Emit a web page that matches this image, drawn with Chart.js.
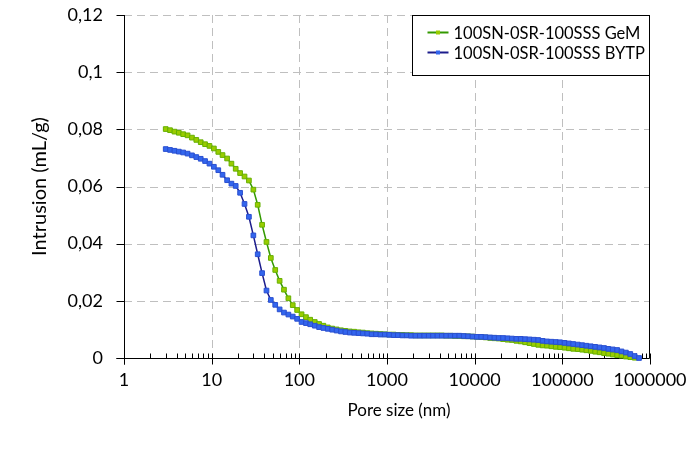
<!DOCTYPE html>
<html>
<head>
<meta charset="utf-8">
<title>Intrusion vs pore size</title>
<script src="https://cdn.jsdelivr.net/npm/chart.js@4.4.1/dist/chart.umd.min.js"></script>
<style>
  html, body { margin: 0; padding: 0; background: #fff; }
  #chart { display: block; }
</style>
</head>
<body>
<canvas id="chart" width="691" height="452"></canvas>
<script>
// pore sizes (nm) shared by both curves
const poreSize = [
  2.99, 3.35, 3.76, 4.22, 4.73, 5.31, 5.96, 6.68, 7.50, 8.41, 9.44,
  10.6, 11.9, 13.3, 15.0, 16.8, 18.8, 21.1, 23.7, 26.6, 29.9,
  33.5, 37.6, 42.2, 47.3, 53.1, 59.6, 66.8, 75.0, 84.1, 94.4,
  106, 119, 133, 150, 168, 188, 211, 237, 266, 299,
  335, 376, 422, 473, 531, 596, 668, 750, 841, 944,
  1060, 1190, 1330, 1500, 1680, 1880, 2110, 2370, 2660, 2990,
  3350, 3760, 4220, 4730, 5310, 5960, 6680, 7500, 8410, 9440,
  10600, 11900, 13300, 15000, 16800, 18800, 21100, 23700, 26600, 29900,
  33500, 37600, 42200, 47300, 53100, 59600, 66800, 75000, 84100, 94400,
  106000, 119000, 133000, 150000, 168000, 188000, 211000, 237000, 266000, 299000,
  335000, 376000, 422000, 473000, 531000, 596000, 668000, 750000
];

// cumulative intrusion (mL/g), GeM sample
const intrusionGeM = [
  0.0801, 0.0797, 0.0792, 0.0788, 0.0783, 0.0779, 0.0771, 0.0763, 0.0755, 0.0748, 0.0742,
  0.0733, 0.0721, 0.0710, 0.0698, 0.0680, 0.0662, 0.0647, 0.0635, 0.0621, 0.0589,
  0.0536, 0.0466, 0.0406, 0.0350, 0.0308, 0.0270, 0.0239, 0.0209, 0.0185, 0.0168,
  0.0153, 0.0143, 0.0134, 0.0126, 0.0119, 0.0113, 0.0107, 0.0103, 0.0100, 0.0097,
  0.0095, 0.0093, 0.0092, 0.0090, 0.0089, 0.0087, 0.0086, 0.0085, 0.0084, 0.0083,
  0.0082, 0.0082, 0.0081, 0.0081, 0.0080, 0.0080, 0.0079, 0.0079, 0.0079, 0.0079,
  0.0079, 0.0079, 0.0079, 0.0078, 0.0078, 0.0077, 0.0077, 0.0076, 0.0076, 0.0075,
  0.0074, 0.0073, 0.0072, 0.0070, 0.0069, 0.0068, 0.0066, 0.0064, 0.0063, 0.0060,
  0.0058, 0.0055, 0.0052, 0.0049, 0.0046, 0.0044, 0.0043, 0.0041, 0.0039, 0.0038,
  0.0036, 0.0034, 0.0032, 0.0031, 0.0029, 0.0027, 0.0025, 0.0022, 0.0020, 0.0017,
  0.0015, 0.0012, 0.0010, 0.0008, 0.0005, 0.0003, 0.0001, null
];

// cumulative intrusion (mL/g), BYTP sample
const intrusionBYTP = [
  0.0731, 0.0728, 0.0725, 0.0722, 0.0719, 0.0715, 0.0709, 0.0703, 0.0697, 0.0689, 0.0680,
  0.0669, 0.0657, 0.0641, 0.0622, 0.0610, 0.0602, 0.0578, 0.0539, 0.0494, 0.0429,
  0.0363, 0.0297, 0.0236, 0.0203, 0.0186, 0.0170, 0.0159, 0.0152, 0.0145, 0.0137,
  0.0126, 0.0122, 0.0118, 0.0113, 0.0108, 0.0105, 0.0102, 0.0099, 0.0096, 0.0093,
  0.0091, 0.0089, 0.0088, 0.0087, 0.0086, 0.0085, 0.0083, 0.0083, 0.0082, 0.0082,
  0.0081, 0.0080, 0.0080, 0.0079, 0.0079, 0.0078, 0.0078, 0.0078, 0.0078, 0.0078,
  0.0078, 0.0078, 0.0078, 0.0078, 0.0078, 0.0078, 0.0078, 0.0077, 0.0076, 0.0075,
  0.0074, 0.0074, 0.0073, 0.0072, 0.0071, 0.0070, 0.0070, 0.0069, 0.0068, 0.0067,
  0.0067, 0.0066, 0.0065, 0.0064, 0.0063, 0.0060, 0.0058, 0.0057, 0.0056, 0.0055,
  0.0053, 0.0051, 0.0049, 0.0047, 0.0045, 0.0043, 0.0041, 0.0039, 0.0037, 0.0035,
  0.0032, 0.0030, 0.0028, 0.0023, 0.0019, 0.0014, 0.0007, 0.0000
];

const seriesNames = ["100SN-0SR-100SSS GeM", "100SN-0SR-100SSS BYTP"];
const xMajorTicks = [1, 10, 100, 1000, 10000, 100000, 1000000];
const yTicks = [0, 0.02, 0.04, 0.06, 0.08, 0.1, 0.12];
const xTitle = "Pore size (nm)";

const FONT = "Lato";

function toPoints(xs, ys) {
  const pts = [];
  xs.forEach((x, i) => {
    if (ys[i] !== null && ys[i] !== undefined) pts.push({ x: x, y: ys[i] });
  });
  return pts;
}

function commaNumber(v) {
  return String(Number(v.toFixed(4))).replace(".", ",");
}

// dashed grid, axes, tick marks, x title and the legend box
const framePlugin = {
  id: "frame",
  beforeDatasetsDraw(chart) {
    const { ctx, chartArea: a, scales } = chart;
    const xs = scales.x, ys = scales.y;
    ctx.save();
    ctx.lineWidth = 1;
    ctx.strokeStyle = "#bfbfbf";
    ctx.setLineDash([8, 5]);
    xMajorTicks.slice(1, -1).forEach((v) => {
      const px = Math.round(xs.getPixelForValue(v)) + 0.5;
      ctx.beginPath();
      ctx.moveTo(px, a.top);
      ctx.lineTo(px, a.bottom);
      ctx.stroke();
    });
    yTicks.slice(1).forEach((v) => {
      const py = Math.round(ys.getPixelForValue(v)) + 0.5;
      ctx.beginPath();
      ctx.moveTo(a.left, py);
      ctx.lineTo(a.right, py);
      ctx.stroke();
    });
    ctx.setLineDash([]);

    // axes
    ctx.strokeStyle = "#000";
    const left = Math.round(a.left) + 0.5;
    const bottom = Math.round(a.bottom) + 0.5;
    const right = Math.round(a.right) - 0.5;
    ctx.beginPath();
    ctx.moveTo(left, a.top);
    ctx.lineTo(left, bottom + 6);
    ctx.moveTo(left - 8, bottom);
    ctx.lineTo(right, bottom);
    ctx.moveTo(right, a.top);
    ctx.lineTo(right, bottom);
    ctx.stroke();

    // y ticks, outside
    ctx.beginPath();
    yTicks.forEach((v) => {
      const py = Math.round(ys.getPixelForValue(v)) + 0.5;
      ctx.moveTo(left - 8, py);
      ctx.lineTo(left, py);
    });
    // x major ticks cross the axis, minor ticks point inward
    xMajorTicks.forEach((v) => {
      const px = Math.round(xs.getPixelForValue(v)) + 0.5;
      ctx.moveTo(px, bottom - 5);
      ctx.lineTo(px, bottom + 6);
    });
    xMajorTicks.slice(0, -1).forEach((d) => {
      for (let m = 2; m <= 9; m++) {
        const px = Math.round(xs.getPixelForValue(d * m)) + 0.5;
        ctx.moveTo(px, bottom - 5);
        ctx.lineTo(px, bottom);
      }
    });
    ctx.stroke();
    ctx.restore();
  },
  afterDraw(chart) {
    const { ctx, chartArea: a } = chart;

    // x axis title
    ctx.save();
    ctx.font = "17px " + FONT;
    ctx.fillStyle = "#000";
    ctx.textAlign = "center";
    ctx.textBaseline = "middle";
    ctx.fillText(xTitle, (a.left + a.right) / 2 + 12, a.bottom + 53);
    ctx.restore();

    const boxW = 238, boxH = 60;
    const bx = Math.round(a.right - boxW) + 0.5;
    const by = Math.round(a.top) + 0.5;
    ctx.save();
    ctx.fillStyle = "#fff";
    ctx.fillRect(bx, by, boxW, boxH);
    ctx.strokeStyle = "#000";
    ctx.lineWidth = 1;
    ctx.strokeRect(bx, by, boxW - 1, boxH);
    ctx.font = "16.5px " + FONT;
    ctx.textBaseline = "middle";
    chart.data.datasets.forEach((ds, i) => {
      const cy = by + 17 + i * 20;
      ctx.strokeStyle = ds.borderColor;
      ctx.lineWidth = 2;
      ctx.beginPath();
      ctx.moveTo(bx + 15, cy);
      ctx.lineTo(bx + 36, cy);
      ctx.stroke();
      ctx.fillStyle = ds.pointBackgroundColor;
      ctx.fillRect(bx + 23.5, cy - 2, 4, 4);
      ctx.fillStyle = "#000";
      ctx.fillText(ds.label, bx + 41, cy + 1);
    });
    ctx.restore();
  }
};

new Chart(document.getElementById("chart"), {
  type: "line",
  data: {
    datasets: [
      {
        label: seriesNames[0],
        data: toPoints(poreSize, intrusionGeM),
        borderColor: "#339900",
        borderWidth: 1.5,
        pointStyle: "rect",
        pointRadius: 3.3,
        pointBorderWidth: 1,
        pointBackgroundColor: "#99cc00",
        pointBorderColor: "#66b000",
        order: 1,
        clip: false
      },
      {
        label: seriesNames[1],
        data: toPoints(poreSize, intrusionBYTP),
        borderColor: "#1c1c8c",
        borderWidth: 1.5,
        pointStyle: "rect",
        pointRadius: 3.3,
        pointBorderWidth: 1,
        pointBackgroundColor: "#3366ee",
        pointBorderColor: "#2a4fd0",
        order: 0,
        clip: false
      }
    ]
  },
  options: {
    responsive: false,
    animation: false,
    layout: { padding: { top: 15, right: 41, left: 0, bottom: 0 } },
    plugins: {
      legend: { display: false },
      tooltip: { enabled: false }
    },
    scales: {
      x: {
        type: "logarithmic",
        min: 1,
        max: 1000000,
        afterBuildTicks: (scale) => {
          scale.ticks = xMajorTicks.map((v) => ({ value: v }));
        },
        afterFit: (scale) => {
          scale.height = 94;
          scale.paddingLeft = 0;
          scale.paddingRight = 0;
        },
        grid: { display: false, drawTicks: false },
        border: { display: false },
        ticks: {
          autoSkip: false,
          maxRotation: 0,
          padding: 11,
          color: "#000",
          font: { family: FONT, size: 18 },
          callback: (v) => String(v)
        }
      },
      y: {
        min: 0,
        max: 0.12,
        afterBuildTicks: (scale) => {
          scale.ticks = yTicks.map((v) => ({ value: v }));
        },
        afterFit: (scale) => {
          scale.width = 124;
          scale.paddingTop = 0;
          scale.paddingBottom = 0;
        },
        grid: { display: false, drawTicks: false },
        border: { display: false },
        ticks: {
          padding: 21,
          color: "#000",
          font: { family: FONT, size: 18 },
          callback: (v) => commaNumber(v)
        },
        title: {
          display: true,
          text: "Intrusion (mL/g)",
          color: "#000",
          font: { family: FONT, size: 20 },
          padding: { top: 28, bottom: 0 }
        }
      }
    }
  },
  plugins: [framePlugin]
});
</script>
</body>
</html>
